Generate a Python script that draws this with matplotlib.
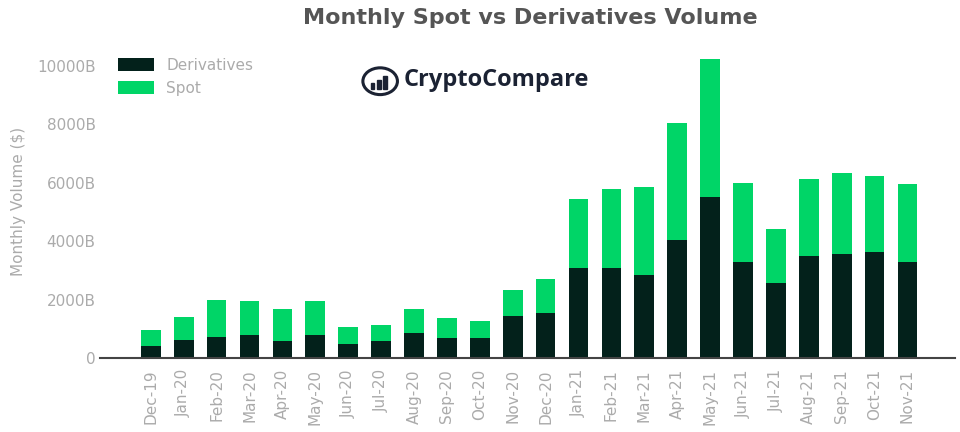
import matplotlib.pyplot as plt
import matplotlib.patches as mpatches
import numpy as np

MONTHS = ['Dec-19', 'Jan-20', 'Feb-20', 'Mar-20', 'Apr-20', 'May-20', 'Jun-20', 'Jul-20',
          'Aug-20', 'Sep-20', 'Oct-20', 'Nov-20', 'Dec-20', 'Jan-21', 'Feb-21', 'Mar-21',
          'Apr-21', 'May-21', 'Jun-21', 'Jul-21', 'Aug-21', 'Sep-21', 'Oct-21', 'Nov-21']

# billions USD
derivatives = [410, 615, 720, 790, 580, 790, 480, 570, 845, 700, 700, 1425, 1550,
               3070, 3070, 2860, 4040, 5510, 3275, 2580, 3500, 3550, 3620, 3290]
total = [960, 1400, 1990, 1950, 1680, 1950, 1070, 1120, 1670, 1370, 1255, 2340, 2720,
         5440, 5800, 5870, 8060, 10230, 6000, 4430, 6130, 6320, 6220, 5970]
spot = [t - d for t, d in zip(total, derivatives)]

Y_TICKS = [0, 2000, 4000, 6000, 8000, 10000]

DERIV_COLOR = '#03211b'
SPOT_COLOR = '#00d567'
TEXT_GRAY = '#ababab'

plt.rcParams['font.family'] = ['DejaVu Sans']

fig = plt.figure(figsize=(9.6, 4.32), dpi=100)
ax = fig.add_axes([0.104, 0.171, 0.891, 0.727])

x = np.arange(len(MONTHS))
ax.bar(x, derivatives, width=0.6, color=DERIV_COLOR, label='Derivatives')
ax.bar(x, spot, width=0.6, bottom=derivatives, color=SPOT_COLOR, label='Spot')

ax.set_xlim(-1.55, 24.45)
ax.set_ylim(0, 10750)
ax.set_xticks(x)
ax.set_xticklabels(MONTHS, rotation=90, color=TEXT_GRAY, fontsize=11)
ax.set_yticks(Y_TICKS)
ax.set_yticklabels(['0' if v == 0 else f'{v}B' for v in Y_TICKS], color=TEXT_GRAY, fontsize=11)
ax.tick_params(axis='x', length=0, pad=8)
ax.tick_params(axis='y', length=0, pad=3)
ax.set_ylabel(r'Monthly Volume (\$)', color=TEXT_GRAY, fontsize=11, labelpad=8)

for s in ['top', 'right', 'left']:
    ax.spines[s].set_visible(False)
ax.spines['bottom'].set_color('#444444')
ax.spines['bottom'].set_linewidth(1.5)

leg = ax.legend(loc='upper left', bbox_to_anchor=(0.01, 0.985), frameon=False, fontsize=11,
                handlelength=2.4, handleheight=0.9, borderaxespad=0.2)
for t in leg.get_texts():
    t.set_color(TEXT_GRAY)

fig.text(0.552, 0.958, 'Monthly Spot vs Derivatives Volume', ha='center', va='center',
         fontsize=16, fontweight='bold', color='#555555')

# CryptoCompare logo
fig.text(0.42, 0.815, 'CryptoCompare', ha='left', va='center', fontsize=17,
         fontweight='bold', color='#1b2233', family='Open Sans')
fig.patches.append(mpatches.Ellipse((0.396, 0.812), 0.036, 0.062, transform=fig.transFigure,
                                    fill=False, edgecolor='#1b2233', linewidth=2.2))
for i, h in enumerate([0.012, 0.02, 0.028]):
    fig.patches.append(mpatches.Rectangle((0.386 + i * 0.0065, 0.795), 0.004, h,
                                          transform=fig.transFigure, color='#1b2233'))

fig.savefig('out.png', dpi=100)
